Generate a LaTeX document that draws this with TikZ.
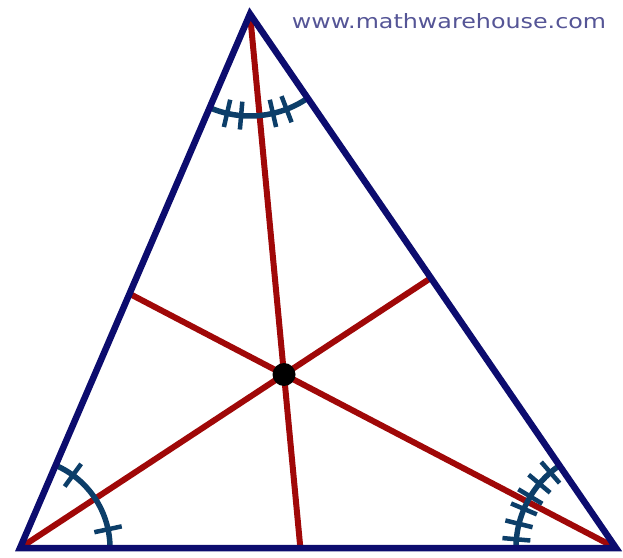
\documentclass[tikz,border=0pt]{standalone}
\usepackage{fontspec}
\newfontfamily\webfont{DejaVu Sans}
\usetikzlibrary{calc}
\definecolor{navyline}{RGB}{12,12,110}
\definecolor{redline}{RGB}{160,8,8}
\definecolor{arcblue}{RGB}{12,62,105}
\definecolor{webtext}{RGB}{85,85,150}
\tikzset{
  side/.style={draw=navyline, line width=6.5pt, line join=miter},
  bisector/.style={draw=redline, line width=6pt},
  anglearc/.style={draw=arcblue, line width=5.5pt},
  tick/.style={draw=arcblue, line width=4.5pt},
}
\begin{document}
\begin{tikzpicture}[x=1pt,y=1pt]
\useasboundingbox (0,0) rectangle (623,557);
\coordinate (A) at (250,543);
\coordinate (B) at (20,9);
\coordinate (C) at (616,9);
\coordinate (I) at (284,182.5);
\coordinate (FA) at (intersection of A--I and B--C);
\coordinate (FB) at (intersection of B--I and A--C);
\coordinate (FC) at (intersection of C--I and A--B);
% bisectors
\draw[bisector] (A) -- (FA);
\draw[bisector] (B) -- (FB);
\draw[bisector] (C) -- (FC);
% angle arcs
\draw[anglearc] ($(A)+(246.7:102)$) arc[start angle=246.7, end angle=304.4, radius=102];
\foreach \t in {257,265,283,291}
  \draw[tick] ($(A)+(\t:88)$) -- ($(A)+(\t:116)$);
\draw[anglearc] ($(B)+(66.7:90)$) arc[start angle=66.7, end angle=0, radius=90];
\foreach \t in {54,12}
  \draw[tick] ($(B)+(\t:76)$) -- ($(B)+(\t:104)$);
\draw[anglearc] ($(C)+(124.4:100)$) arc[start angle=124.4, end angle=180, radius=100];
\foreach \t in {131,140,149,157,166,175}
  \draw[tick] ($(C)+(\t:86)$) -- ($(C)+(\t:114)$);
% triangle
\draw[side] (A) -- (B) -- (C) -- cycle;
% incenter
\node[circle, fill=black, inner sep=0pt, minimum size=23pt] (dot) at (I) {};
% website
\node[text=webtext, inner sep=0pt] (web) at (449,536) {\resizebox{314pt}{15pt}{\webfont www.mathwarehouse.com}};
\end{tikzpicture}
\end{document}
